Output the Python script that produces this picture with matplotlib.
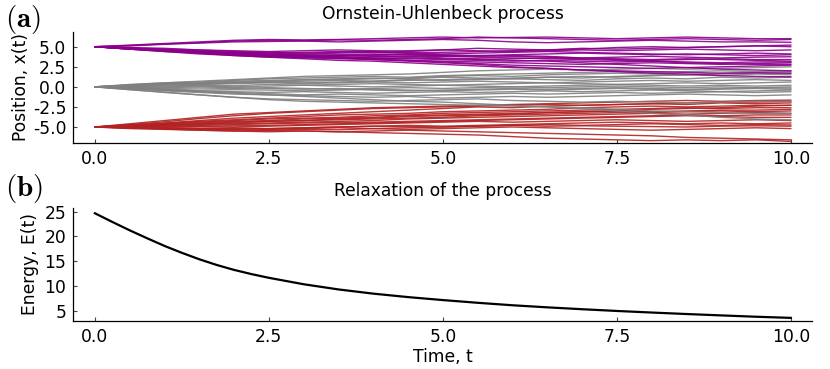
import numpy as np
import matplotlib
matplotlib.use("Agg")
import matplotlib.pyplot as plt

plt.rcParams['axes.unicode_minus'] = False
plt.rcParams['font.family'] = ['DejaVu Sans']
plt.rcParams['mathtext.fontset'] = 'cm'

# sample times of the paths (every 0.5)
t = np.linspace(0, 10, 21)

# paths starting at +5 (purple)
paths_top = [
    [5.0, 5.2, 5.4, 5.6, 5.8, 5.9, 5.85, 5.9, 6.0, 6.1, 6.2, 6.1, 6.15, 6.2, 6.1, 6.0, 6.1, 6.2, 6.1, 6.0, 6.0],
    [5.0, 5.15, 5.35, 5.5, 5.7, 5.8, 5.75, 5.85, 5.8, 5.9, 6.0, 6.2, 6.1, 6.0, 5.9, 5.8, 5.9, 6.0, 5.9, 5.8, 5.9],
    [5.0, 5.1, 5.3, 5.45, 5.6, 5.65, 5.7, 5.6, 5.7, 5.8, 5.9, 5.8, 5.6, 5.5, 5.6, 5.7, 5.8, 5.7, 5.6, 5.6, 5.55],
    [5.0, 4.9, 4.8, 4.6, 4.5, 4.4, 4.5, 4.6, 4.5, 4.4, 4.6, 4.8, 4.7, 4.6, 4.7, 4.9, 5.0, 4.9, 5.0, 5.1, 5.0],
    [5.0, 4.85, 4.7, 4.6, 4.4, 4.3, 4.2, 4.3, 4.4, 4.5, 4.6, 4.5, 4.4, 4.5, 4.6, 4.5, 4.6, 4.7, 4.6, 4.5, 4.6],
    [5.0, 4.8, 4.6, 4.4, 4.2, 4.1, 4.0, 3.9, 4.0, 4.1, 4.0, 3.9, 4.0, 4.1, 4.2, 4.1, 4.0, 4.1, 4.0, 3.9, 4.0],
    [5.0, 4.75, 4.5, 4.3, 4.1, 3.9, 3.8, 3.9, 3.8, 3.7, 3.8, 3.9, 3.8, 3.7, 3.6, 3.7, 3.8, 3.7, 3.6, 3.7, 3.75],
    [5.0, 4.7, 4.4, 4.2, 4.0, 3.8, 3.7, 3.6, 3.5, 3.6, 3.5, 3.4, 3.5, 3.6, 3.5, 3.4, 3.3, 3.4, 3.5, 3.4, 3.4],
    [5.0, 4.8, 4.5, 4.3, 4.0, 3.9, 3.8, 3.7, 3.6, 3.5, 3.4, 3.3, 3.2, 3.3, 3.2, 3.1, 3.2, 3.1, 3.0, 3.1, 3.1],
    [5.0, 4.7, 4.5, 4.2, 3.9, 3.7, 3.6, 3.5, 3.4, 3.3, 3.2, 3.1, 3.0, 2.9, 2.8, 2.9, 3.0, 2.9, 2.8, 2.9, 3.0],
    [5.0, 4.75, 4.5, 4.3, 4.1, 4.0, 3.9, 3.7, 3.5, 3.3, 3.1, 2.9, 2.7, 2.6, 2.5, 2.4, 2.3, 2.4, 2.5, 2.6, 2.7],
    [5.0, 4.8, 4.6, 4.3, 4.1, 3.9, 3.7, 3.6, 3.4, 3.2, 3.0, 2.8, 2.5, 2.3, 2.1, 2.0, 1.9, 1.8, 1.7, 1.75, 1.7],
    [5.0, 4.7, 4.4, 4.1, 3.9, 3.7, 3.5, 3.3, 3.2, 3.0, 2.8, 2.6, 2.4, 2.3, 2.1, 1.9, 1.7, 1.6, 1.4, 1.3, 1.25],
    [5.0, 4.85, 4.6, 4.4, 4.2, 4.0, 3.85, 3.8, 3.9, 4.0, 3.9, 3.8, 3.9, 3.8, 3.6, 3.5, 3.4, 3.5, 3.4, 3.3, 3.2],
    [5.0, 4.8, 4.6, 4.5, 4.3, 4.2, 4.1, 4.2, 4.3, 4.2, 4.1, 4.2, 4.3, 4.4, 4.3, 4.2, 4.1, 4.0, 4.1, 4.2, 4.1],
    [5.0, 4.7, 4.5, 4.2, 4.0, 3.8, 3.75, 3.6, 3.7, 3.8, 3.6, 3.5, 3.3, 3.2, 3.0, 2.8, 2.6, 2.4, 2.2, 2.1, 2.0],
    [5.0, 4.8, 4.55, 4.35, 4.2, 4.05, 3.95, 4.0, 4.1, 3.95, 3.85, 3.7, 3.6, 3.5, 3.4, 3.3, 3.2, 3.0, 2.9, 2.8, 2.8],
    [5.0, 4.75, 4.55, 4.4, 4.3, 4.25, 4.3, 4.4, 4.35, 4.25, 4.3, 4.4, 4.5, 4.6, 4.8, 4.7, 4.8, 4.9, 5.0, 5.1, 5.2],
]

# paths starting at 0 (gray)
paths_mid = [
    [0, 0.3, 0.5, 0.7, 0.9, 1.1, 1.3, 1.4, 1.5, 1.6, 1.8, 2.0, 2.1, 2.2, 2.1, 2.2, 2.3, 2.2, 2.3, 2.4, 2.5],
    [0, 0.25, 0.5, 0.6, 0.8, 1.0, 1.1, 1.2, 1.3, 1.2, 1.4, 1.5, 1.6, 1.7, 1.8, 1.9, 1.8, 1.9, 2.0, 1.9, 2.0],
    [0, 0.2, 0.4, 0.5, 0.7, 0.8, 0.9, 1.0, 1.1, 1.0, 1.2, 1.1, 1.0, 1.2, 1.3, 1.2, 1.4, 1.5, 1.4, 1.6, 1.5],
    [0, 0.15, 0.3, 0.4, 0.5, 0.6, 0.7, 0.8, 0.7, 0.9, 0.8, 0.9, 1.0, 0.9, 0.8, 1.0, 1.1, 1.0, 1.2, 1.1, 1.2],
    [0, 0.1, 0.2, 0.3, 0.4, 0.5, 0.4, 0.5, 0.6, 0.5, 0.6, 0.7, 0.6, 0.5, 0.6, 0.7, 0.8, 0.7, 0.8, 0.9, 0.8],
    [0, 0.05, 0.1, 0.2, 0.15, 0.3, 0.2, 0.3, 0.4, 0.3, 0.2, 0.3, 0.4, 0.5, 0.4, 0.3, 0.4, 0.5, 0.4, 0.5, 0.6],
    [0, -0.05, 0.0, 0.1, 0.0, 0.1, 0.2, 0.1, 0.0, 0.1, 0.2, 0.1, 0.0, 0.1, 0.2, 0.3, 0.2, 0.1, 0.2, 0.1, 0.2],
    [0, -0.1, -0.2, -0.15, -0.2, -0.1, -0.2, -0.3, -0.2, -0.1, -0.2, -0.1, 0.0, -0.1, 0.0, 0.1, 0.0, -0.1, 0.0, -0.1, 0.0],
    [0, -0.15, -0.3, -0.4, -0.35, -0.4, -0.5, -0.4, -0.3, -0.4, -0.5, -0.4, -0.3, -0.4, -0.3, -0.2, -0.3, -0.4, -0.3, -0.2, -0.3],
    [0, -0.2, -0.4, -0.5, -0.6, -0.7, -0.6, -0.7, -0.8, -0.7, -0.6, -0.7, -0.6, -0.5, -0.6, -0.5, -0.4, -0.5, -0.6, -0.5, -0.4],
    [0, -0.25, -0.5, -0.7, -0.9, -1.0, -1.1, -1.2, -1.3, -1.2, -1.4, -1.3, -1.2, -1.3, -1.2, -1.1, -1.0, -0.9, -1.0, -1.1, -1.0],
    [0, -0.35, -0.7, -1.0, -1.3, -1.5, -1.6, -1.7, -1.8, -1.7, -1.6, -1.5, -1.7, -1.8, -1.9, -1.8, -1.9, -2.0, -1.9, -1.8, -1.85],
    [0, -0.35, -0.65, -1.0, -1.3, -1.6, -1.8, -1.9, -2.0, -2.1, -2.2, -2.3, -2.4, -2.5, -2.6, -2.8, -3.0, -3.1, -3.2, -3.3, -3.3],
    [0, -0.2, -0.4, -0.6, -0.8, -1.0, -1.2, -1.4, -1.6, -1.8, -1.9, -2.1, -2.3, -2.5, -2.7, -3.0, -3.3, -3.5, -3.8, -4.0, -4.1],
    [0, 0.2, 0.35, 0.3, 0.5, 0.6, 0.5, 0.6, 0.7, 0.8, 0.9, 1.0, 1.1, 1.2, 1.1, 1.3, 1.4, 1.5, 1.7, 1.8, 1.9],
    [0, -0.1, -0.1, 0.0, -0.1, -0.2, -0.3, -0.2, -0.4, -0.5, -0.4, -0.3, -0.2, -0.3, -0.2, -0.1, -0.2, -0.3, -0.2, -0.1, -0.15],
    [0, 0.1, 0.3, 0.45, 0.6, 0.7, 0.85, 0.9, 1.0, 1.1, 1.3, 1.4, 1.3, 1.5, 1.6, 1.7, 1.6, 1.5, 1.6, 1.7, 1.7],
    [0, -0.2, -0.35, -0.55, -0.7, -0.85, -1.0, -0.9, -1.0, -1.1, -1.0, -0.9, -0.8, -0.9, -0.8, -0.7, -0.8, -0.7, -0.6, -0.7, -0.6],
]

# paths starting at -5 (red)
paths_low = [
    [-5, -4.6, -4.2, -3.8, -3.4, -3.2, -3.0, -2.8, -2.6, -2.5, -2.4, -2.3, -2.2, -2.1, -2.0, -1.9, -1.8, -1.7, -1.8, -1.7, -1.65],
    [-5, -4.75, -4.5, -4.2, -3.9, -3.7, -3.5, -3.3, -3.1, -2.9, -2.7, -2.5, -2.6, -2.4, -2.3, -2.2, -2.1, -2.2, -2.0, -2.1, -2.0],
    [-5, -4.8, -4.55, -4.3, -4.1, -3.9, -3.7, -3.5, -3.4, -3.3, -3.1, -3.0, -2.9, -2.8, -2.6, -2.5, -2.4, -2.5, -2.4, -2.3, -2.3],
    [-5, -4.8, -4.6, -4.4, -4.2, -4.0, -3.9, -3.8, -3.6, -3.5, -3.3, -3.2, -3.1, -3.0, -2.9, -2.8, -2.7, -2.6, -2.7, -2.6, -2.6],
    [-5, -4.85, -4.7, -4.5, -4.3, -4.2, -4.0, -3.9, -3.8, -3.6, -3.5, -3.4, -3.3, -3.2, -3.1, -3.0, -3.1, -3.0, -2.9, -2.9, -2.8],
    [-5, -4.9, -4.75, -4.6, -4.5, -4.3, -4.2, -4.1, -4.0, -3.9, -3.8, -3.6, -3.5, -3.4, -3.3, -3.2, -3.2, -3.1, -3.0, -3.1, -3.0],
    [-5, -4.9, -4.8, -4.7, -4.6, -4.5, -4.4, -4.3, -4.2, -4.0, -3.9, -3.8, -3.7, -3.6, -3.5, -3.4, -3.3, -3.4, -3.3, -3.2, -3.3],
    [-5, -4.95, -4.85, -4.8, -4.7, -4.6, -4.5, -4.45, -4.4, -4.3, -4.2, -4.1, -4.0, -3.9, -3.8, -3.7, -3.6, -3.5, -3.6, -3.5, -3.5],
    [-5, -5.0, -4.9, -4.9, -4.85, -4.8, -4.7, -4.6, -4.5, -4.4, -4.3, -4.2, -4.1, -4.0, -3.9, -3.8, -3.7, -3.6, -3.7, -3.8, -3.8],
    [-5, -5.05, -5.0, -4.95, -5.0, -4.9, -4.8, -4.7, -4.6, -4.5, -4.4, -4.3, -4.4, -4.3, -4.2, -4.1, -4.2, -4.3, -4.2, -4.1, -4.2],
    [-5, -5.1, -5.1, -5.2, -5.1, -5.2, -5.1, -5.0, -4.9, -4.8, -4.9, -4.8, -4.7, -4.6, -4.5, -4.4, -4.5, -4.6, -4.5, -4.6, -4.5],
    [-5, -5.15, -5.2, -5.3, -5.35, -5.4, -5.3, -5.35, -5.2, -5.1, -5.0, -4.9, -4.8, -4.7, -4.8, -4.7, -4.6, -4.7, -4.8, -4.7, -4.75],
    [-5, -5.2, -5.3, -5.4, -5.5, -5.6, -5.5, -5.6, -5.5, -5.4, -5.5, -5.6, -5.7, -5.8, -5.9, -6.0, -6.1, -6.3, -6.4, -6.5, -6.6],
    [-5, -5.1, -5.25, -5.4, -5.5, -5.45, -5.5, -5.6, -5.7, -5.8, -5.9, -6.0, -6.2, -6.4, -6.5, -6.6, -6.7, -6.6, -6.7, -6.6, -6.8],
    [-5, -5.0, -5.1, -5.15, -5.2, -5.3, -5.2, -5.1, -5.2, -5.3, -5.2, -5.1, -5.0, -5.1, -5.2, -5.3, -5.4, -5.3, -5.2, -5.1, -5.2],
    [-5, -4.9, -4.7, -4.6, -4.4, -4.3, -4.2, -4.0, -3.9, -3.7, -3.6, -3.5, -3.4, -3.2, -3.1, -3.0, -2.8, -2.7, -2.6, -2.4, -2.3],
    [-5, -4.7, -4.35, -3.95, -3.6, -3.3, -3.1, -2.9, -2.7, -2.6, -2.5, -2.4, -2.3, -2.2, -2.3, -2.2, -2.1, -2.0, -1.9, -1.9, -1.8],
    [-5, -5.05, -5.15, -5.25, -5.3, -5.2, -5.1, -5.0, -4.9, -4.95, -5.0, -4.9, -4.8, -4.9, -4.85, -4.9, -4.95, -5.0, -4.9, -4.85, -4.9],
]

# energy of the process
energy_t = [0, 0.25, 0.5, 0.75, 1.0, 1.25, 1.5, 1.75, 2.0, 2.25, 2.5, 3.0, 3.5, 4.0, 4.5,
            5.0, 5.5, 6.0, 6.5, 7.0, 7.5, 8.0, 8.5, 9.0, 9.5, 10.0]
energy = [24.7, 22.95, 21.25, 19.65, 18.1, 16.7, 15.4, 14.25, 13.25, 12.4, 11.65, 10.35, 9.3, 8.45, 7.75,
          7.15, 6.6, 6.1, 5.68, 5.3, 4.95, 4.63, 4.33, 4.05, 3.78, 3.55]

xticks = [0.0, 2.5, 5.0, 7.5, 10.0]
fs = 12.3


def style(ax):
    for s in ['top', 'right']:
        ax.spines[s].set_visible(False)
    for s in ['left', 'bottom']:
        ax.spines[s].set_linewidth(0.9)
    ax.tick_params(direction='in', length=3, width=0.8, labelsize=fs, pad=5, color='#444444')
    ax.set_xticks(xticks)
    ax.set_xticklabels(['%.1f' % v for v in xticks])
    ax.set_xlim(-0.31, 10.3)


fig = plt.figure(figsize=(8.3, 3.69), dpi=100)
ax1 = fig.add_axes([0.0883, 0.6117, 0.8896, 0.3024])
ax2 = fig.add_axes([0.0883, 0.1309, 0.8896, 0.3046])

for p in paths_low:
    ax1.plot(t, p, color='firebrick', lw=1.0, alpha=0.9)
for p in paths_mid:
    ax1.plot(t, p, color='gray', lw=1.0, alpha=0.9)
for p in paths_top:
    ax1.plot(t, p, color='darkmagenta', lw=1.0, alpha=0.9)

style(ax1)
ax1.set_ylim(-7.03, 6.87)
ax1.set_yticks([-5.0, -2.5, 0.0, 2.5, 5.0])
ax1.set_yticklabels(['-5.0', '-2.5', '0.0', '2.5', '5.0'])
ax1.set_ylabel('Position, x(t)', fontsize=fs, labelpad=2)
ax1.set_title('Ornstein-Uhlenbeck process', fontsize=fs, pad=9)

ax2.plot(energy_t, energy, color='black', lw=1.6)
style(ax2)
ax2.set_ylim(2.98, 25.7)
ax2.set_yticks([5, 10, 15, 20, 25])
ax2.set_ylabel('Energy, E(t)', fontsize=fs, labelpad=4)
ax2.set_xlabel('Time, t', fontsize=fs, labelpad=2)
ax2.set_title('Relaxation of the process', fontsize=fs, pad=9)

fig.text(0.006, 0.946, r'$\mathbf{(a)}$', fontsize=21, va='center', ha='left')
fig.text(0.006, 0.488, r'$\mathbf{(b)}$', fontsize=21, va='center', ha='left')

fig.savefig('out.png', dpi=100)
